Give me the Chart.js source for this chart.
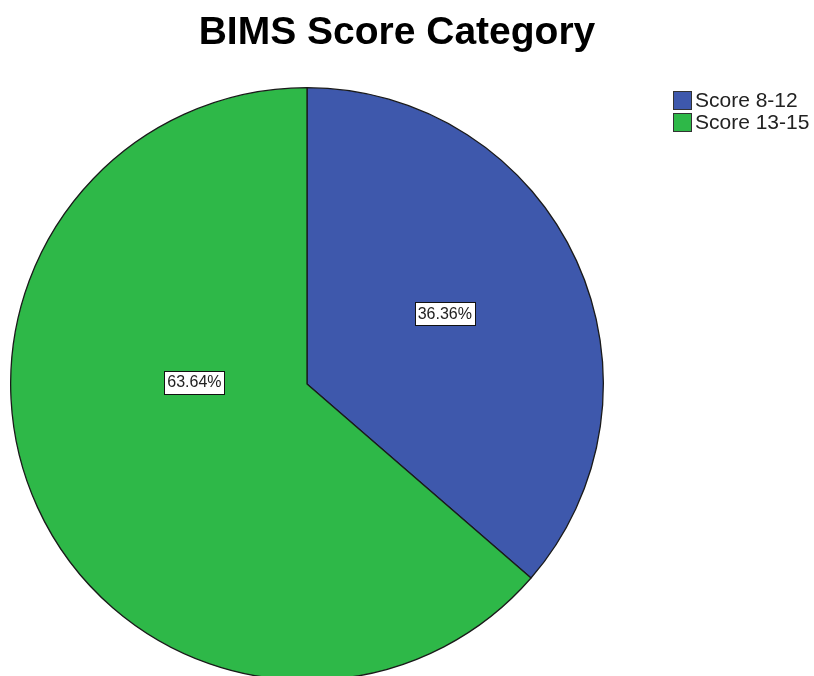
<!DOCTYPE html>
<html>
<head>
<meta charset="utf-8">
<script src="https://cdn.jsdelivr.net/npm/chart.js@4/dist/chart.umd.min.js"></script>
<style>
  html, body { margin: 0; padding: 0; background: #ffffff; overflow: hidden; }
  canvas { display: block; }
</style>
</head>
<body>
<canvas id="c" width="814" height="681"></canvas>
<script>
const chartTitle = 'BIMS Score Category';
const categories = ['Score 8-12', 'Score 13-15'];
const percentValues = [36.36, 63.64];
const sliceColors = ['#3E58AC', '#2EB848'];

// placement of value labels inside slices (style, not data)
const labelAngleDeg = [-27.2, 181];
const labelRadiusFrac = [0.523, 0.38];

const FONT = '"Liberation Sans", Arial, Helvetica, sans-serif';

const decorPlugin = {
  id: 'decor',
  afterDraw(chart) {
    const ctx = chart.ctx;
    const meta = chart.getDatasetMeta(0);
    ctx.save();
    // value labels
    ctx.font = '16px ' + FONT;
    ctx.textAlign = 'center';
    ctx.textBaseline = 'middle';
    meta.data.forEach((arc, i) => {
      const a = labelAngleDeg[i] * Math.PI / 180;
      const r = arc.outerRadius * labelRadiusFrac[i];
      const x = arc.x + r * Math.cos(a);
      const y = arc.y + r * Math.sin(a);
      const txt = chart.data.datasets[0].data[i].toFixed(2) + '%';
      const w = Math.round(ctx.measureText(txt).width + 6);
      const h = 23;
      const bx = Math.round(x - w / 2) + 0.5, by = Math.round(y - h / 2) + 0.5;
      ctx.fillStyle = '#ffffff';
      ctx.fillRect(bx, by, w, h);
      ctx.strokeStyle = '#111111';
      ctx.lineWidth = 1;
      ctx.strokeRect(bx, by, w, h);
      ctx.fillStyle = '#222222';
      ctx.fillText(txt, x, y + 1);
    });
    // title
    ctx.fillStyle = '#000000';
    ctx.font = 'bold 39px ' + FONT;
    ctx.textAlign = 'center';
    ctx.textBaseline = 'alphabetic';
    ctx.fillText(chartTitle, 397, 44);
    // legend
    ctx.font = '21px ' + FONT;
    ctx.textAlign = 'left';
    ctx.textBaseline = 'middle';
    chart.data.labels.forEach((lab, i) => {
      const y = 91 + i * 22;
      ctx.fillStyle = chart.data.datasets[0].backgroundColor[i];
      ctx.fillRect(673.5, y + 0.5, 18, 18);
      ctx.strokeStyle = '#333333';
      ctx.lineWidth = 1;
      ctx.strokeRect(673.5, y + 0.5, 18, 18);
      ctx.fillStyle = '#222222';
      ctx.fillText(lab, 695, y + 10);
    });
    ctx.restore();
  }
};

new Chart(document.getElementById('c'), {
  type: 'pie',
  data: {
    labels: categories,
    datasets: [{
      data: percentValues,
      backgroundColor: sliceColors,
      borderColor: '#1a1a1a',
      borderWidth: 1.3
    }]
  },
  options: {
    responsive: false,
    animation: false,
    layout: { padding: { top: 87, left: 10, right: 210, bottom: 0 } },
    plugins: {
      legend: { display: false },
      title: { display: false },
      tooltip: { enabled: false }
    }
  },
  plugins: [decorPlugin]
});
</script>
</body>
</html>
